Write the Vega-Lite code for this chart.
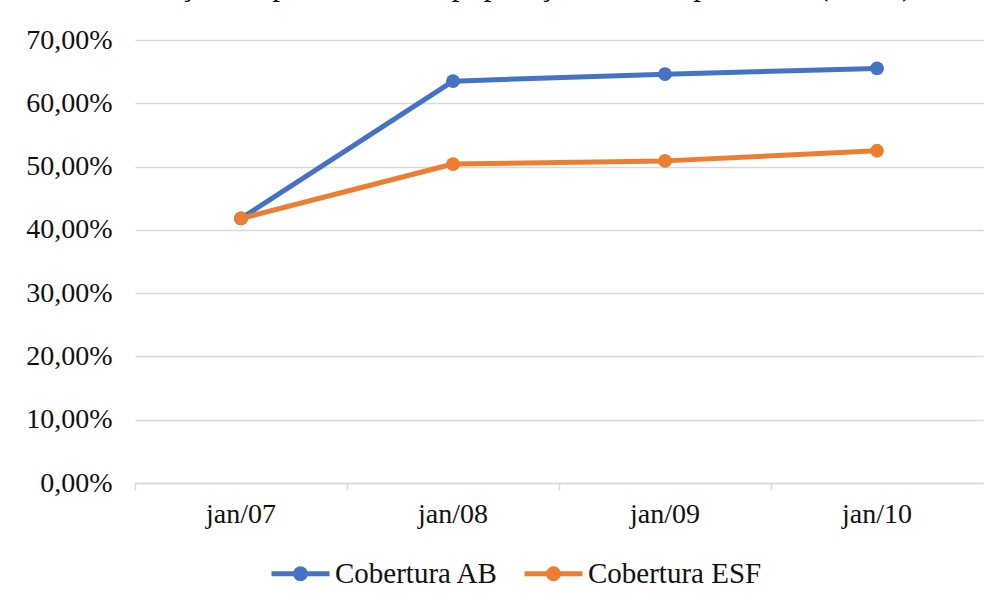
{
  "$schema": "https://vega.github.io/schema/vega-lite/v6.json",
  "width": 848,
  "height": 443,
  "autosize": {"type": "none"},
  "padding": {"left": 135, "top": 40, "right": 17, "bottom": 123},
  "background": "white",
  "title": {
    "text": "Evolução do percentual da população coberta pela ESF (em %)",
    "anchor": "middle",
    "baseline": "alphabetic",
    "offset": -1,
    "dx": -51,
    "font": "Liberation Serif, Times New Roman, serif",
    "fontSize": 32,
    "fontWeight": "normal",
    "color": "#111111"
  },
  "data": {
    "values": [
      {"mes": "jan/07", "serie": "Cobertura AB", "valor": 41.8},
      {"mes": "jan/08", "serie": "Cobertura AB", "valor": 63.5},
      {"mes": "jan/09", "serie": "Cobertura AB", "valor": 64.6},
      {"mes": "jan/10", "serie": "Cobertura AB", "valor": 65.5},
      {"mes": "jan/07", "serie": "Cobertura ESF", "valor": 41.8},
      {"mes": "jan/08", "serie": "Cobertura ESF", "valor": 50.4},
      {"mes": "jan/09", "serie": "Cobertura ESF", "valor": 50.9},
      {"mes": "jan/10", "serie": "Cobertura ESF", "valor": 52.5}
    ]
  },
  "encoding": {
    "y": {
      "field": "valor",
      "type": "quantitative",
      "scale": {"domain": [0, 70], "nice": false, "zero": true},
      "axis": {
        "title": null,
        "values": [0, 10, 20, 30, 40, 50, 60, 70],
        "labelExpr": "replace(format(datum.value, '.2f'), '.', ',') + '%'",
        "domain": false,
        "ticks": false,
        "gridColor": "#d9d9d9",
        "gridWidth": 1.5,
        "labelPadding": 23,
        "labelFont": "Liberation Serif, Times New Roman, serif",
        "labelFontSize": 28,
        "labelColor": "#111111"
      }
    }
  },
  "layer": [
    {
      "mark": {"type": "point", "opacity": 0},
      "encoding": {
        "x": {
          "field": "mes",
          "type": "ordinal",
          "sort": null,
          "scale": {"type": "band", "paddingInner": 0, "paddingOuter": 0},
          "axis": {
            "orient": "bottom",
            "title": null,
            "labels": false,
            "domain": false,
            "grid": false,
            "ticks": true,
            "bandPosition": 0,
            "tickSize": 7,
            "tickColor": "#d9d9d9",
            "tickWidth": 1.5
          }
        }
      }
    },
    {
      "mark": {
        "type": "line",
        "strokeWidth": 5,
        "strokeCap": "round",
        "strokeJoin": "round",
        "point": {"filled": true, "size": 190, "opacity": 1}
      },
      "encoding": {
        "x": {
          "field": "mes",
          "type": "ordinal",
          "sort": null,
          "scale": {"type": "band", "paddingInner": 0, "paddingOuter": 0},
          "axis": {
            "orient": "bottom",
            "title": null,
            "labelAngle": 0,
            "ticks": false,
            "grid": false,
            "domainColor": "#d9d9d9",
            "domainWidth": 1.5,
            "labelPadding": 17,
            "labelFont": "Liberation Serif, Times New Roman, serif",
            "labelFontSize": 28,
            "labelColor": "#111111"
          }
        },
        "color": {
          "field": "serie",
          "type": "nominal",
          "scale": {
            "domain": ["Cobertura AB", "Cobertura ESF"],
            "range": ["#4472c4", "#ed7d31"]
          },
          "legend": {
            "title": null,
            "orient": "none",
            "direction": "horizontal",
            "legendX": 134,
            "legendY": 502,
            "symbolType": "M-1,0L1,0M-0.17,0A0.17,0.17 0 1,1 0.17,0A0.17,0.17 0 1,1 -0.17,0Z",
            "symbolSize": 3364,
            "symbolStrokeWidth": 5,
            "labelFont": "Liberation Serif, Times New Roman, serif",
            "labelFontSize": 29,
            "labelLimit": 400,
            "labelColor": "#111111",
            "labelOffset": 3,
            "columnPadding": 15
          }
        }
      }
    }
  ],
  "resolve": {"axis": {"x": "independent"}},
  "config": {
    "view": {"stroke": null},
    "font": "Liberation Serif, Times New Roman, serif",
    "legend": {"labelFont": "Liberation Serif, Times New Roman, serif", "labelFontSize": 29, "labelLimit": 400}
  }
}
